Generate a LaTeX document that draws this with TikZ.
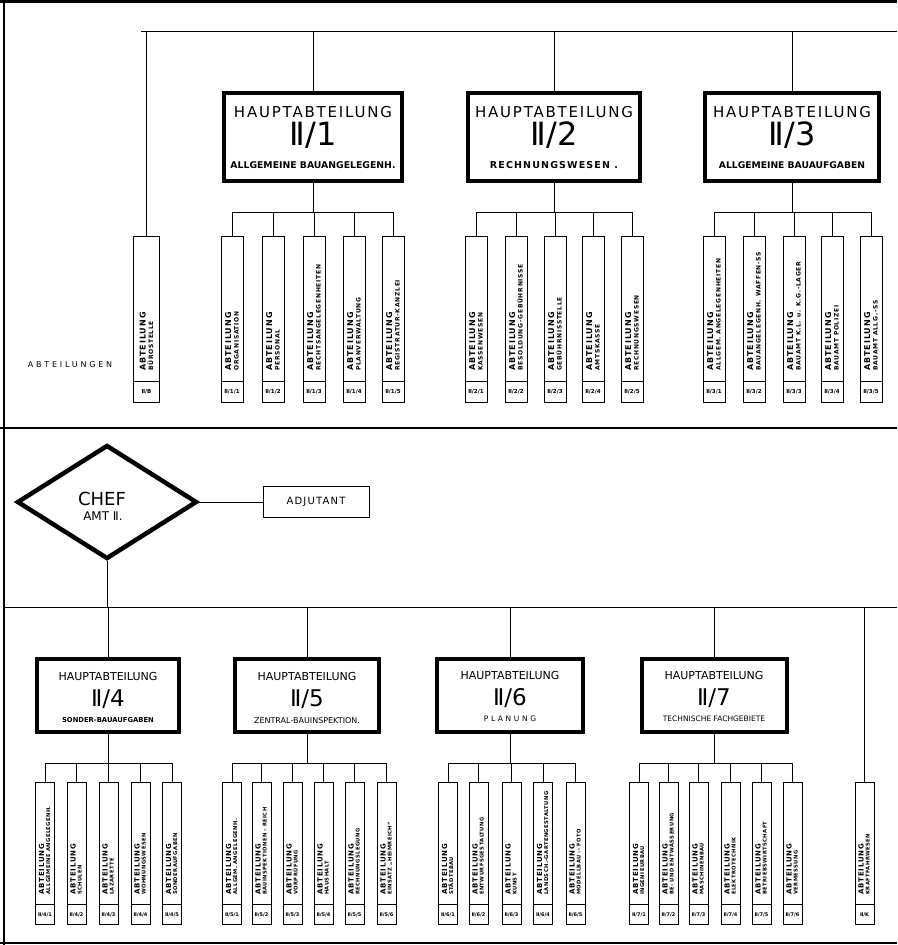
\documentclass[tikz,border=0pt]{standalone}
\usepackage{fontspec}
\setmainfont{DejaVu Sans}
\usetikzlibrary{shapes.geometric}
\newfontfamily\ls[LetterSpace=12]{DejaVu Sans}
\newfontfamily\lsn[LetterSpace=8]{DejaVu Sans}
\newfontfamily\lsw[LetterSpace=35]{DejaVu Sans}
\newcommand\fs[2]{\fontsize{#1}{#2}\selectfont}

\tikzset{
  frameline/.style={line width=2.5pt},
  conn/.style={line width=0.7pt},
  habox/.style={draw, line width=4pt, inner sep=0pt},
  colbox/.style={draw, line width=0.8pt, inner sep=0pt},
  txt/.style={inner sep=0pt, anchor=center},
}

\newcommand\colTop{236}\newcommand\colBot{402}\newcommand\colCell{381}\newcommand\colW{22}
\newcommand\abtF{\ls\bfseries\fs{8}{9}}
\newcommand\subF{\ls\bfseries\fs{6}{7}}
\newcommand\numF{\fs{5.5}{6}\bfseries}
\newcommand\colAx{-1}\newcommand\colBx{6.5}\newcommand\colGap{10}

% name, cx, bus coordinate, second line, number
\newcommand\MkCol[5]{%
  \node[colbox, minimum width=\colW, minimum height={\colBot-\colTop}, anchor=north] (#1) at (#2,\colTop) {};
  \node[colbox, minimum width=\colW, minimum height={\colBot-\colCell}, anchor=south] (#1n) at (#1.south) {\numF #5};
  \node[rotate=90, anchor=base west, inner sep=0pt] at ([xshift=\colAx, yshift=\colGap]#1n.north) {\abtF ABTEILUNG};
  \node[rotate=90, anchor=base west, inner sep=0pt] at ([xshift=\colBx, yshift=\colGap]#1n.north) {\subF #4};
  \draw[conn] (#1.north |- #3) -- (#1.north);
}

\begin{document}
\begin{tikzpicture}[x=1pt,y=-1pt]
\useasboundingbox (0,0) rectangle (897,945);
\fill[white] (0,0) rectangle (897,945);

% frame
\draw[frameline] (0,1.5) -- (897,1.5);
\draw[frameline, line width=2pt] (3.5,0) -- (3.5,945);
\draw[frameline] (0,428) -- (897,428);
\draw[frameline, line width=2pt] (0,942.5) -- (897,942.5);

% ================= TOP PANEL =================
\coordinate (tbL) at (141,31);
\coordinate (tbL2) at (146,35);
\coordinate (tbR) at (897,31);
\draw[conn] (tbL) -- (tbR);

% Hauptabteilungen II/1 - II/3
\node[habox, minimum width=178, minimum height=88] (h1) at (313,137) {};
\node[txt, font=\ls\fs{15}{15}] at (313,112) {HAUPTABTEILUNG};
\node[txt, font=\fs{32}{32}] at (313,135) {Ⅱ/1};
\node[txt, font=\bfseries\fs{9.3}{10}] at (313,165) {ALLGEMEINE BAUANGELEGENH.};

\node[habox, minimum width=172, minimum height=88] (h2) at (554,137) {};
\node[txt, font=\ls\fs{15}{15}] at (554,112) {HAUPTABTEILUNG};
\node[txt, font=\fs{32}{32}] at (554,135) {Ⅱ/2};
\node[txt, font=\bfseries\ls\fs{9.5}{10}] at (554,165) {RECHNUNGSWESEN .};

\node[habox, minimum width=174, minimum height=88] (h3) at (792,137) {};
\node[txt, font=\ls\fs{15}{15}] at (792,112) {HAUPTABTEILUNG};
\node[txt, font=\fs{32}{32}] at (792,135) {Ⅱ/3};
\node[txt, font=\bfseries\fs{9.2}{10}] at (792,165) {ALLGEMEINE BAUAUFGABEN};

\draw[conn] (h1.north |- tbL) -- (h1.north);
\draw[conn] (h2.north |- tbL) -- (h2.north);
\draw[conn] (h3.north |- tbL) -- (h3.north);

\coordinate (g1) at (313,212);
\coordinate (g2) at (554,212);
\coordinate (g3) at (792,212);
\draw[conn] (h1.south) -- (g1);
\draw[conn] (h2.south) -- (g2);
\draw[conn] (h3.south) -- (g3);

% left single column
\renewcommand\colW{26}
\MkCol{c0}{146.5}{tbL}{BÜROSTELLE}{Ⅱ/B}
\draw[conn] (tbL2) -- (tbL2 |- c0.north);
\renewcommand\colW{22}
\node[txt, font=\lsw\fs{8}{8}] (abtlab) at (70,365) {ABTEILUNGEN};

\MkCol{c11}{232}{g1}{ORGANISATION}{Ⅱ/1/1}
\MkCol{c12}{273}{g1}{PERSONAL}{Ⅱ/1/2}
\MkCol{c13}{314}{g1}{RECHTSANGELEGENHEITEN}{Ⅱ/1/3}
\MkCol{c14}{354}{g1}{PLANVERWALTUNG}{Ⅱ/1/4}
\MkCol{c15}{393}{g1}{REGISTRATUR-KANZLEI}{Ⅱ/1/5}
\draw[conn] (c11.north |- g1) -- (c15.north |- g1);

\MkCol{c21}{476}{g2}{KASSENWESEN}{Ⅱ/2/1}
\MkCol{c22}{516}{g2}{BESOLDUNG-GEBÜHRNISSE}{Ⅱ/2/2}
\MkCol{c23}{555}{g2}{GEBÜHRNISSTELLE}{Ⅱ/2/3}
\MkCol{c24}{593}{g2}{AMTSKASSE}{Ⅱ/2/4}
\MkCol{c25}{632}{g2}{RECHNUNGSWESEN}{Ⅱ/2/5}
\draw[conn] (c21.north |- g2) -- (c25.north |- g2);

\MkCol{c31}{714}{g3}{ALLGEM. ANGELEGENHEITEN}{Ⅱ/3/1}
\MkCol{c32}{754}{g3}{BAUANGELEGENH. WAFFEN-SS}{Ⅱ/3/2}
\MkCol{c33}{794}{g3}{BAUAMT K.L. u. K.G.-LAGER}{Ⅱ/3/3}
\MkCol{c34}{832}{g3}{BAUAMT POLIZEI}{Ⅱ/3/4}
\MkCol{c35}{871}{g3}{BAUAMT ALLG.-SS}{Ⅱ/3/5}
\draw[conn] (c31.north |- g3) -- (c35.north |- g3);

% ================= BOTTOM PANEL =================
\node[diamond, draw, line width=4.5pt, minimum width=180, minimum height=114, inner sep=0pt] (chef) at (107,502) {};
\node[txt, font=\fs{18}{18}] at (102,499) {CHEF};
\node[txt, font=\fs{12}{12}] at (103,516) {AMT Ⅱ.};
\node[draw, line width=0.8pt, minimum width=106, minimum height=31, inner sep=0pt, font=\ls\fs{10}{10}] (adj) at (316,502) {ADJUTANT};
\draw[conn] (chef.east) -- (adj.west);

\coordinate (bbL) at (4,607);
\coordinate (bbR) at (897,607);
\draw[conn] (bbL) -- (bbR);
\draw[conn] (chef.south) -- (chef.south |- bbL);

\node[habox, minimum width=142, minimum height=73] (h4) at (108,695.5) {};
\node[txt, font=\fs{11}{11}] at (108,676) {HAUPTABTEILUNG};
\node[txt, font=\fs{23}{23}] at (108,699) {Ⅱ/4};
\node[txt, font=\bfseries\fs{6.8}{7}] at (108,720.5) {SONDER-BAUAUFGABEN};

\node[habox, minimum width=144, minimum height=73] (h5) at (307,695.5) {};
\node[txt, font=\fs{11}{11}] at (307,676) {HAUPTABTEILUNG};
\node[txt, font=\fs{23}{23}] at (307,699) {Ⅱ/5};
\node[txt, font=\fs{8}{8}] at (307,720.5) {ZENTRAL-BAUINSPEKTION.};

\node[habox, minimum width=146, minimum height=73] (h6) at (510,695) {};
\node[txt, font=\fs{11}{11}] at (510,675) {HAUPTABTEILUNG};
\node[txt, font=\fs{23}{23}] at (510,698) {Ⅱ/6};
\node[txt, font=\lsw\fs{7.5}{8}] at (510,719) {PLANUNG};

\node[habox, minimum width=145, minimum height=73] (h7) at (714,695) {};
\node[txt, font=\fs{11}{11}] at (714,675) {HAUPTABTEILUNG};
\node[txt, font=\fs{23}{23}] at (714,698) {Ⅱ/7};
\node[txt, font=\fs{7.5}{8}] at (714,719) {TECHNISCHE FACHGEBIETE};

\draw[conn] (h4.north |- bbL) -- (h4.north);
\draw[conn] (h5.north |- bbL) -- (h5.north);
\draw[conn] (h6.north |- bbL) -- (h6.north);
\draw[conn] (h7.north |- bbL) -- (h7.north);

\coordinate (g4) at (108,763);
\coordinate (g5) at (307,763);
\coordinate (g6) at (510,763);
\coordinate (g7) at (714,763);
\draw[conn] (h4.south) -- (g4);
\draw[conn] (h5.south) -- (g5);
\draw[conn] (h6.south) -- (g6);
\draw[conn] (h7.south) -- (g7);

\renewcommand\colTop{782}\renewcommand\colBot{924}\renewcommand\colCell{904}\renewcommand\colW{19}
\renewcommand\abtF{\ls\bfseries\fs{7}{8}}
\renewcommand\subF{\lsn\bfseries\fs{5.2}{6}}
\renewcommand\numF{\fs{5}{6}\bfseries}
\renewcommand\colAx{-0.8}\renewcommand\colBx{5.2}\renewcommand\colGap{9}

\MkCol{c41}{45}{g4}{ALLGEMEINE ANGELEGENH.}{Ⅱ/4/1}
\MkCol{c42}{76.5}{g4}{SCHULEN}{Ⅱ/4/2}
\MkCol{c43}{108.5}{g4}{LAZARETTE}{Ⅱ/4/3}
\MkCol{c44}{140.5}{g4}{WOHNUNGSWESEN}{Ⅱ/4/4}
\MkCol{c45}{172}{g4}{SONDERAUFGABEN}{Ⅱ/4/5}
\draw[conn] (c41.north |- g4) -- (c45.north |- g4);

\MkCol{c51}{232}{g5}{ALLGEM. ANGELEGENH.}{Ⅱ/5/1}
\MkCol{c52}{261.5}{g5}{BAUINSPEKTIONEN - REICH}{Ⅱ/5/2}
\MkCol{c53}{292.5}{g5}{VORPRÜFUNG}{Ⅱ/5/3}
\MkCol{c54}{323.5}{g5}{HAUSHALT}{Ⅱ/5/4}
\MkCol{c55}{354.5}{g5}{RECHNUNGSLEGUNG}{Ⅱ/5/5}
\MkCol{c56}{386.5}{g5}{EINSATZ „HEIMREICH“}{Ⅱ/5/6}
\draw[conn] (c51.north |- g5) -- (c56.north |- g5);

\MkCol{c61}{448}{g6}{STÄDTEBAU}{Ⅱ/6/1}
\MkCol{c62}{478.5}{g6}{ENTWURFSGESTALTUNG}{Ⅱ/6/2}
\MkCol{c63}{511.5}{g6}{KUNST}{Ⅱ/6/3}
\MkCol{c64}{543}{g6}{LANDSCH.-GARTENGESTALTUNG}{Ⅱ/6/4}
\MkCol{c65}{575.5}{g6}{MODELLBAU -- FOTO}{Ⅱ/6/5}
\draw[conn] (c61.north |- g6) -- (c65.north |- g6);

\MkCol{c71}{639}{g7}{INGENIEURBAU}{Ⅱ/7/1}
\MkCol{c72}{668.5}{g7}{BE- UND ENTWÄSSERUNG}{Ⅱ/7/2}
\MkCol{c73}{698.5}{g7}{MASCHINENBAU}{Ⅱ/7/3}
\MkCol{c74}{730.5}{g7}{ELEKTROTECHNIK}{Ⅱ/7/4}
\MkCol{c75}{761.5}{g7}{BETRIEBSWIRTSCHAFT}{Ⅱ/7/5}
\MkCol{c76}{792.5}{g7}{VERMESSUNG}{Ⅱ/7/6}
\draw[conn] (c71.north |- g7) -- (c76.north |- g7);

\MkCol{c8}{864.5}{bbL}{KRAFTFAHRWESEN}{Ⅱ/K}
\end{tikzpicture}
\end{document}
